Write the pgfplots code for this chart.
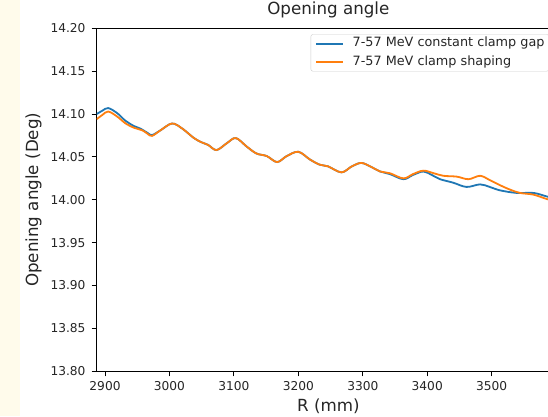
\documentclass[border=0pt]{standalone}
\usepackage{pgfplots}
\pgfplotsset{compat=1.18}
\usepackage{fontspec}
\setmainfont{DejaVu Sans}
\definecolor{mblue}{HTML}{1F77B4}
\definecolor{morange}{HTML}{FF7F0E}
\definecolor{bgyellow}{HTML}{FFFBEB}
\definecolor{txt}{HTML}{262626}
\begin{document}
\begin{tikzpicture}
\useasboundingbox (0,0) rectangle (548pt,416pt);
\clip (0,0) rectangle (548pt,416pt);
\fill[white] (0,0) rectangle (548pt,416pt);
\fill[bgyellow] (0,0) rectangle (20pt,416pt);
\begin{axis}[
  at={(96.7pt,44.7pt)}, anchor=south west,
  width=463.3pt, height=343pt, scale only axis,
  xmin=2887.1, xmax=3606, ymin=13.80, ymax=14.20,
  xtick={2900,3000,3100,3200,3300,3400,3500},
  xticklabels={2900,3000,3100,3200,3300,3400,3500},
  ytick={13.80,13.85,13.90,13.95,14.00,14.05,14.10,14.15,14.20},
  yticklabels={13.80,13.85,13.90,13.95,14.00,14.05,14.10,14.15,14.20},
  tick align=outside, major tick length=5pt,
  xtick pos=bottom, ytick pos=left,
  tick style={black, line width=1pt},
  axis line style={black, line width=1.1pt},
  tick label style={font=\fontsize{12.2}{14}\selectfont, text=txt},
  yticklabel style={inner sep=0pt, xshift=-6pt},
  xticklabel style={inner sep=0pt, yshift=-4.5pt},
  title={Opening angle},
  title style={at={(0.5,1.0222)}, anchor=base, font=\fontsize{16.7}{20}\selectfont, text=txt},
  xlabel={R (mm)},
  xlabel style={at={(0.5,-0.1184)}, anchor=base, font=\fontsize{16.7}{20}\selectfont, text=txt},
  ylabel={Opening angle (Deg)},
  ylabel style={at={(-0.1366,0.5)}, anchor=center, font=\fontsize{16.7}{20}\selectfont, text=txt},
  legend style={at={(0.4619,0.9825)}, anchor=north west, draw=black!20, fill=white,
    rounded corners=2pt, font=\fontsize{12.8}{15}\selectfont, text=txt,
    inner xsep=4.3pt, inner ysep=3pt, row sep=6.3pt,
    nodes={inner sep=0pt, text height=9.4pt, text depth=2.8pt},
    /tikz/every odd column/.append style={column sep=9pt}},
  legend cell align=left,
  legend image code/.code={\draw[#1, line width=1.8pt] (0pt,0pt) -- (26.7pt,0pt);},
]
\addplot[mblue, line width=1.8pt, smooth, tension=0.55] coordinates {
(2887,14.100) (2896,14.104) (2905,14.107) (2919,14.101) (2932,14.092)
(2945,14.086) (2955,14.083) (2966,14.078) (2973,14.0755) (2986,14.081)
(3004,14.089) (3020,14.083) (3038,14.072) (3050,14.067) (3060,14.064)
(3073,14.058) (3089,14.066) (3103,14.072) (3120,14.062) (3135,14.054)
(3151,14.051) (3167,14.044) (3182,14.051) (3200,14.056) (3218,14.047)
(3233,14.041) (3246,14.039) (3267,14.032) (3283,14.039) (3298,14.043)
(3314,14.038) (3327,14.033) (3342,14.030) (3363,14.024) (3378,14.029)
(3394,14.033) (3407,14.029) (3420,14.024) (3440,14.020) (3461,14.015)
(3482,14.018) (3497,14.015) (3513,14.011) (3539,14.008) (3565,14.008)
(3585,14.004) (3606,14.000)
};
\addlegendentry{7-57 MeV constant clamp gap}
\addplot[morange, line width=1.8pt, smooth, tension=0.55] coordinates {
(2887,14.094) (2896,14.099) (2905,14.103) (2919,14.097) (2932,14.089)
(2945,14.084) (2958,14.081) (2966,14.077) (2973,14.0745) (2986,14.081)
(3004,14.089) (3020,14.083) (3038,14.072) (3050,14.067) (3060,14.064)
(3073,14.058) (3089,14.066) (3103,14.072) (3120,14.062) (3135,14.054)
(3151,14.051) (3167,14.044) (3182,14.051) (3200,14.056) (3218,14.047)
(3233,14.041) (3246,14.039) (3267,14.032) (3283,14.039) (3298,14.043)
(3314,14.038) (3327,14.033) (3342,14.031) (3363,14.025) (3378,14.030)
(3394,14.034) (3410,14.031) (3425,14.028) (3446,14.027) (3464,14.024)
(3482,14.028) (3497,14.023) (3513,14.017) (3528,14.012) (3544,14.008)
(3565,14.006) (3585,14.001) (3606,13.997)
};
\addlegendentry{7-57 MeV clamp shaping}
\end{axis}
\end{tikzpicture}
\end{document}
